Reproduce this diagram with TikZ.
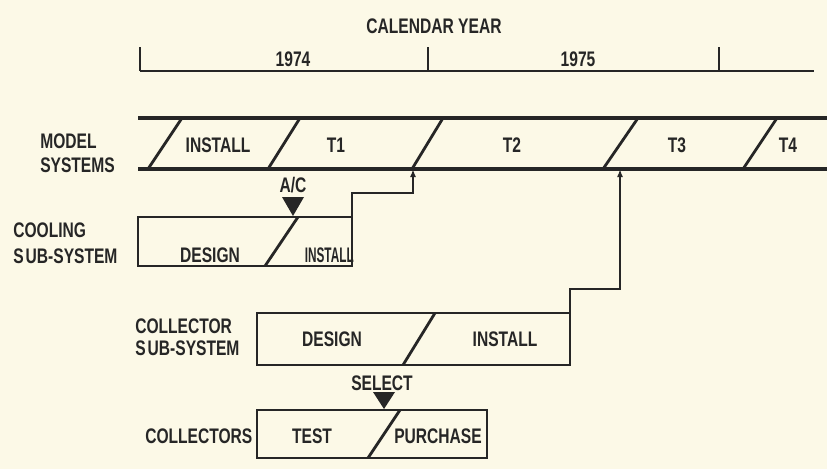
\documentclass[tikz,border=0pt]{standalone}
\usepackage{fontspec}
\setmainfont{Liberation Sans}[FakeStretch=0.74]
\newfontfamily\narrowfont{Liberation Sans}[FakeStretch=0.56]
\usetikzlibrary{arrows.meta}
\definecolor{paper}{HTML}{FCF9E7}
\definecolor{ink}{HTML}{262626}
\begin{document}
\begin{tikzpicture}[x=0.75pt,y=-0.75pt,
  lbl/.style={font=\bfseries\fontsize{15.8}{18}\selectfont, text=ink, inner sep=0pt},
  lblw/.style={lbl, anchor=west},
  ln/.style={draw=ink, line width=2.1pt, line join=miter},
  band/.style={draw=ink, line width=2.3pt},
  conn/.style={draw=ink, line width=2.1pt, -{Latex[length=6pt,width=4.5pt]}},
  flag/.style={fill=ink}]
\fill[paper] (0,0) rectangle (827,469);
\useasboundingbox (0,0) rectangle (827,469);

% calendar
\node[lbl] (cal) at (434,26) {CALENDAR YEAR};
\node[lbl] (y74) at (293,59) {1974};
\node[lbl] (y75) at (578,59) {1975};
\coordinate (tlA) at (140,71);
\coordinate (tlB) at (814,71);
\draw[ln] (tlA) -- (tlB);
\draw[ln] (140,47) -- (140,71);
\draw[ln,line width=1.5pt] (428,47) -- (428,71);
\draw[ln,line width=1.5pt] (719,47) -- (719,71);

% model systems band
\node[lblw] (ms1) at (40,141) {MODEL};
\node[lblw] (ms2) at (40,165) {SYSTEMS};
\draw[band] (138,118) -- (827,118);
\draw[band] (138,169) -- (827,169);
\draw[ln] (148,169) -- (182,118);
\draw[ln] (268,169) -- (300,118);
\draw[ln] (412,169) -- (443,118);
\draw[ln] (603,169) -- (638,118);
\draw[ln] (743,169) -- (777,118);
\node[lbl] (mInst) at (218,145) {INSTALL};
\node[lbl] (mT1) at (336,145) {T1};
\node[lbl] (mT2) at (512,145) {T2};
\node[lbl] (mT3) at (677,145) {T3};
\node[lbl] (mT4) at (788,145) {T4};
\coordinate (mb1) at (413,169);
\coordinate (mb2) at (620,169);

% cooling sub-system
\node[lblw] (cs1) at (13,230) {COOLING};
\node[lblw] (cs2) at (13,256) {S\kern1.5pt UB-SYSTEM};
\draw[ln] (138,217) rectangle (352,266);
\draw[ln] (265,266) -- (298,217);
\node[lbl] (cDes) at (210,255) {DESIGN};
\node[lbl, anchor=east] (cInst) at (354,255) {\narrowfont\bfseries INSTALL};
\node[lbl] (ac) at (293,185) {A/C};
\fill[flag] (282,197) -- (304,197) -- (293,216) -- cycle;
\coordinate (coolTR) at (352,217);
\draw[conn] (coolTR) -- ++(0,-24) -| (mb1);

% collector sub-system
\node[lblw] (col1) at (135,326) {COLLECTOR};
\node[lblw] (col2) at (135,348) {S\kern1.5pt UB-SYSTEM};
\draw[ln] (257,313) rectangle (570,365);
\draw[ln] (403,365) -- (435,313);
\node[lbl] (kDes) at (332,339) {DESIGN};
\node[lbl] (kInst) at (505,339) {INSTALL};
\coordinate (collTR) at (570,313);
\draw[conn] (collTR) -- ++(0,-24) -| (mb2);

% collectors
\node[lblw] (cl) at (145,436) {COLLECTORS};
\draw[ln] (257,410) rectangle (487,458);
\draw[ln] (368,458) -- (400,410);
\node[lbl] (tTest) at (312,436) {TEST};
\node[lbl] (tPur) at (438,436) {PURCHASE};
\node[lbl] (sel) at (382,383) {SELECT};
\fill[flag] (373,392) -- (395,392) -- (384,409) -- cycle;
\end{tikzpicture}
\end{document}
